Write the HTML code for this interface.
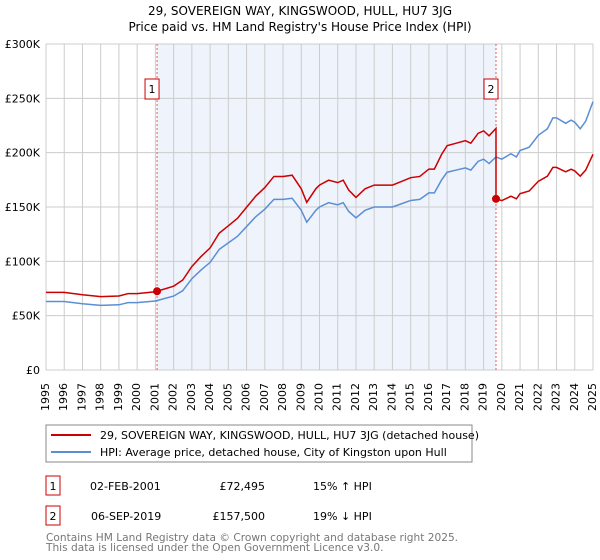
<!DOCTYPE html>
<html><head><meta charset="utf-8"><style>
body{margin:0;background:#fff;font-family:"DejaVu Sans","Liberation Sans",sans-serif;}
#wrap{position:relative;width:600px;height:560px;}
svg{display:block;position:absolute;left:0;top:0}
.xl{position:absolute;top:383px;height:34px;width:13px;line-height:13px;font-size:11px;writing-mode:sideways-lr;text-align:end;white-space:nowrap;color:#000;}
</style></head><body>
<div id="wrap">
<svg width="600" height="560" font-family="DejaVu Sans, Liberation Sans, sans-serif">
<text x="300" y="15" text-anchor="middle" font-size="12" fill="#000">29, SOVEREIGN WAY, KINGSWOOD, HULL, HU7 3JG</text>
<text x="300" y="31" text-anchor="middle" font-size="12" fill="#000">Price paid vs. HM Land Registry's House Price Index (HPI)</text>
<g id="plot"></g>
<g>
<rect x="46" y="425" width="426" height="37" fill="#fff" stroke="#888"/>
<line x1="51" y1="435" x2="91" y2="435" stroke="#cc0000" stroke-width="2"/>
<text x="100" y="439" font-size="11">29, SOVEREIGN WAY, KINGSWOOD, HULL, HU7 3JG (detached house)</text>
<line x1="51" y1="452" x2="91" y2="452" stroke="#5b8fd4" stroke-width="2"/>
<text x="100" y="456" font-size="11">HPI: Average price, detached house, City of Kingston upon Hull</text>
</g>
<g font-size="11">
<rect x="46" y="476" width="14" height="19" fill="#fff" stroke="#cc0000"/>
<text x="53" y="490" text-anchor="middle">1</text>
<text x="90" y="490">02-FEB-2001</text>
<text x="265" y="490" text-anchor="end">£72,495</text>
<text x="313" y="490">15% ↑ HPI</text>
</g>
<g font-size="11">
<rect x="46" y="506" width="14" height="19" fill="#fff" stroke="#cc0000"/>
<text x="53" y="520" text-anchor="middle">2</text>
<text x="91" y="520">06-SEP-2019</text>
<text x="265" y="520" text-anchor="end">£157,500</text>
<text x="313" y="520">19% ↓ HPI</text>
</g>
<text x="46" y="541" font-size="10.6" fill="#777">Contains HM Land Registry data © Crown copyright and database right 2025.</text>
<text x="46" y="551" font-size="10.6" fill="#777">This data is licensed under the Open Government Licence v3.0.</text>
</svg>
<div id="xlabels"></div>
</div>
<script>
const hpiYears=[1995,1996,1997,1998,1999,1999.5,2000,2001,2002,2002.5,2003,2003.5,2004,2004.5,2005,2005.5,2006,2006.5,2007,2007.5,2008,2008.5,2009,2009.3,2009.8,2010,2010.5,2011,2011.3,2011.6,2012,2012.5,2013,2013.5,2014,2014.5,2015,2015.5,2016,2016.3,2016.7,2017,2017.5,2018,2018.3,2018.7,2019,2019.3,2019.68,2020,2020.5,2020.8,2021,2021.5,2022,2022.5,2022.8,2023,2023.5,2023.8,2024,2024.3,2024.6,2025];
const hpiValues=[63,63,61,59.5,60,62,62,63.5,68,73,84,92,99,111,117,123,132,141,148,157,157,158,147,136,147,150,154,152,154,146,140,147,150,150,150,153,156,157,163,163,175,182,184,186,184,192,194,190,196,194,199,196,202,205,216,222,232,232,227,230,228,222,229,247];
const saleYears=[2001.09,2019.68];
const salePrices=[72.495,157.5];
const yTicks=[0,50,100,150,200,250,300];
const yTickLabels=["£0","£50K","£100K","£150K","£200K","£250K","£300K"];
const xTicks=[1995,1996,1997,1998,1999,2000,2001,2002,2003,2004,2005,2006,2007,2008,2009,2010,2011,2012,2013,2014,2015,2016,2017,2018,2019,2020,2021,2022,2023,2024,2025];

const X0=46,X1=593,Y0=370,Y1=44;
const xs=y=>X0+(y-1995)/30*(X1-X0);
const ys=v=>Y0-v/300*(Y0-Y1);
const NS="http://www.w3.org/2000/svg";
const g=document.getElementById('plot');


function mk(t,a,p){const e=document.createElementNS(NS,t);for(const k in a)e.setAttribute(k,a[k]);(p||g).appendChild(e);return e;}
const hpiAt=y=>{for(let i=0;i<hpiYears.length-1;i++){if(y>=hpiYears[i]&&y<=hpiYears[i+1]){const f=(y-hpiYears[i])/(hpiYears[i+1]-hpiYears[i]);return hpiValues[i]+f*(hpiValues[i+1]-hpiValues[i]);}}return hpiValues[hpiValues.length-1];};

const band=mk('rect',{x:xs(saleYears[0]),y:Y1,width:xs(saleYears[1])-xs(saleYears[0]),height:Y0-Y1,fill:'#eef3fc'});


const xl=document.getElementById('xlabels');
xTicks.forEach(t=>{
  const l=mk('line',{x1:xs(t),x2:xs(t),y1:Y1,y2:Y0,stroke:'#cccccc','stroke-width':1});
  
  
  const d=document.createElement('div');
  d.className='xl';
  d.style.left=(xs(t)-7)+'px';
  d.textContent=t;
  
  
  xl.appendChild(d);
});
yTicks.forEach((t,i)=>{
  const l=mk('line',{x1:X0,x2:X1,y1:ys(t),y2:ys(t),stroke:'#cccccc','stroke-width':1});
  
  
  const tx=mk('text',{x:X0-6,y:ys(t)+4,'font-size':11,'text-anchor':'end'});
  tx.textContent=yTickLabels[i];
  
  
});
saleYears.forEach((s,i)=>{
  const l=mk('line',{x1:xs(s),x2:xs(s),y1:Y1,y2:Y0,stroke:'#e06060','stroke-width':1,'stroke-dasharray':'2,2'});
  
  
  const r=mk('rect',{x:xs(s)-12,y:79,width:14,height:20,fill:'#fff',stroke:'#cc0000'});
  
  
  const tx=mk('text',{x:xs(s)-5,y:93,'font-size':11,'text-anchor':'middle'});
  tx.textContent=i+1;
  
  
});
const hp=mk('polyline',{points:hpiYears.map((y,i)=>xs(y)+','+ys(hpiValues[i])).join(' '),fill:'none',stroke:'#5b8fd4','stroke-width':1.5});


const pts=[];
const r1=salePrices[0]/hpiAt(saleYears[0]), r2=salePrices[1]/hpiAt(saleYears[1]);
hpiYears.forEach((y,i)=>{ if(y<saleYears[1]) pts.push([y,hpiValues[i]*r1]); });
pts.push([saleYears[1],hpiAt(saleYears[1])*r1]);
pts.push([saleYears[1],salePrices[1]]);
hpiYears.forEach((y,i)=>{ if(y>saleYears[1]) pts.push([y,hpiValues[i]*r2]); });
const pl=mk('polyline',{points:pts.map(p=>xs(p[0])+','+ys(p[1])).join(' '),fill:'none',stroke:'#cc0000','stroke-width':1.5});


saleYears.forEach((s,i)=>{
  const c=mk('circle',{cx:xs(s),cy:ys(salePrices[i]),r:4,fill:'#cc0000'});
  
  
});
</script>
</body></html>
